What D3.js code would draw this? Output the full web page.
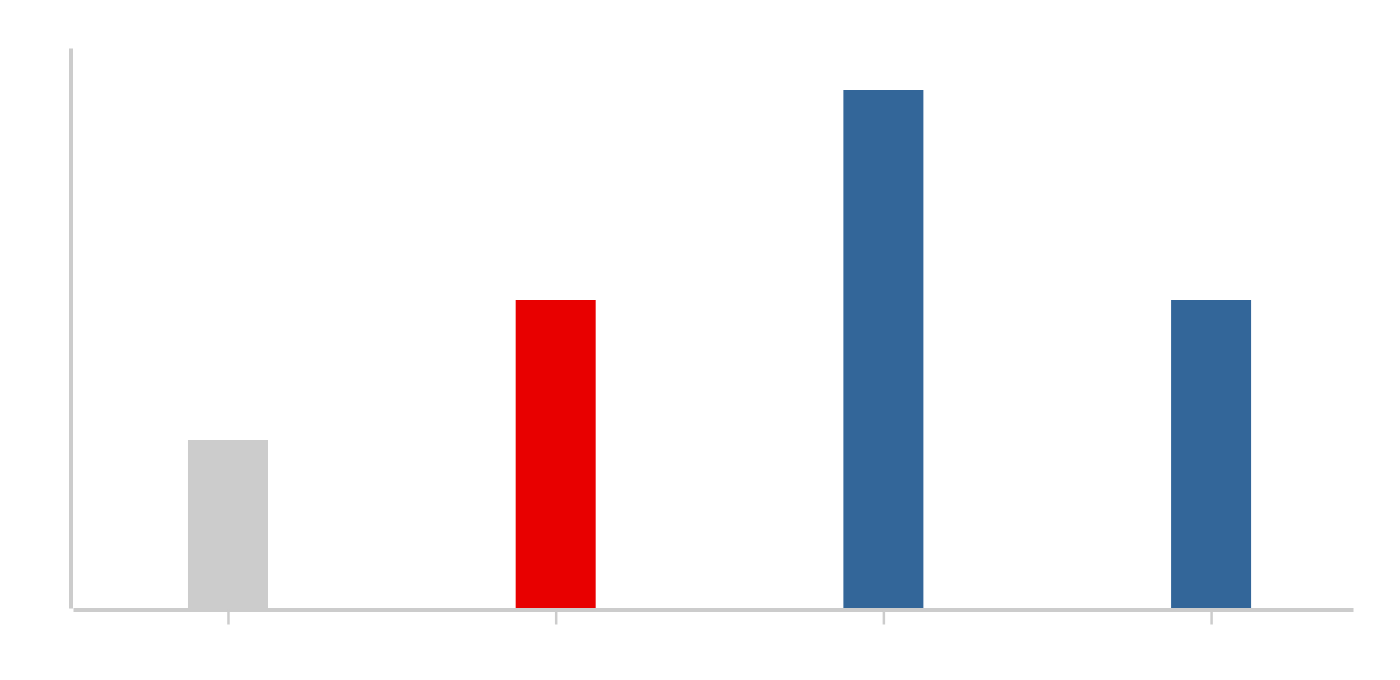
<!DOCTYPE html>
<html>
<head>
<meta charset="utf-8">
<script src="https://cdn.jsdelivr.net/npm/d3@7"></script>
<style>
  html, body { margin: 0; padding: 0; background: #ffffff; }
  svg { display: block; }
</style>
</head>
<body>
<svg id="chart" width="1400" height="680"></svg>
<script>
// Data
const categories = ["A", "B", "C", "D"];
const values = [30, 55, 92.5, 55];
const barColors = ["#cccccc", "#e80000", "#336699", "#336699"];
const yDomain = [0, 100];

(function () {
  const svg = d3.select("#chart");
  const plotLeft = 73, plotRight = 1353, plotTop = 48, plotBottom = 608;

  const x = d3.scalePoint()
    .domain(categories)
    .range([plotLeft, plotRight])
    .padding(0.453)
    .align(0.522);

  const y = d3.scaleLinear()
    .domain(yDomain)
    .range([plotBottom, plotTop]);

  const barWidth = 80;

  svg.append("g")
    .selectAll("rect")
    .data(categories)
    .join("rect")
    .attr("x", (d) => x(d) - barWidth / 2)
    .attr("y", (d, i) => y(values[i]))
    .attr("width", barWidth)
    .attr("height", (d, i) => y(0) - y(values[i]))
    .attr("fill", (d, i) => barColors[i]);

  // x axis
  const xAxis = svg.append("g")
    .attr("transform", `translate(0, ${plotBottom + 1.5})`)
    .call(d3.axisBottom(x).tickSize(15).tickSizeOuter(0).tickFormat(""));
  xAxis.select(".domain").attr("stroke", "#cccccc").attr("stroke-width", 4);
  xAxis.selectAll(".tick line").attr("stroke", "#cccccc").attr("stroke-width", 2.5);

  // y axis
  const yAxis = svg.append("g")
    .attr("transform", `translate(${plotLeft - 2.5}, 0)`)
    .call(d3.axisLeft(y).ticks(0).tickSizeOuter(0).tickFormat(""));
  yAxis.select(".domain").attr("stroke", "#cccccc").attr("stroke-width", 4);
})();
</script>
</body>
</html>
